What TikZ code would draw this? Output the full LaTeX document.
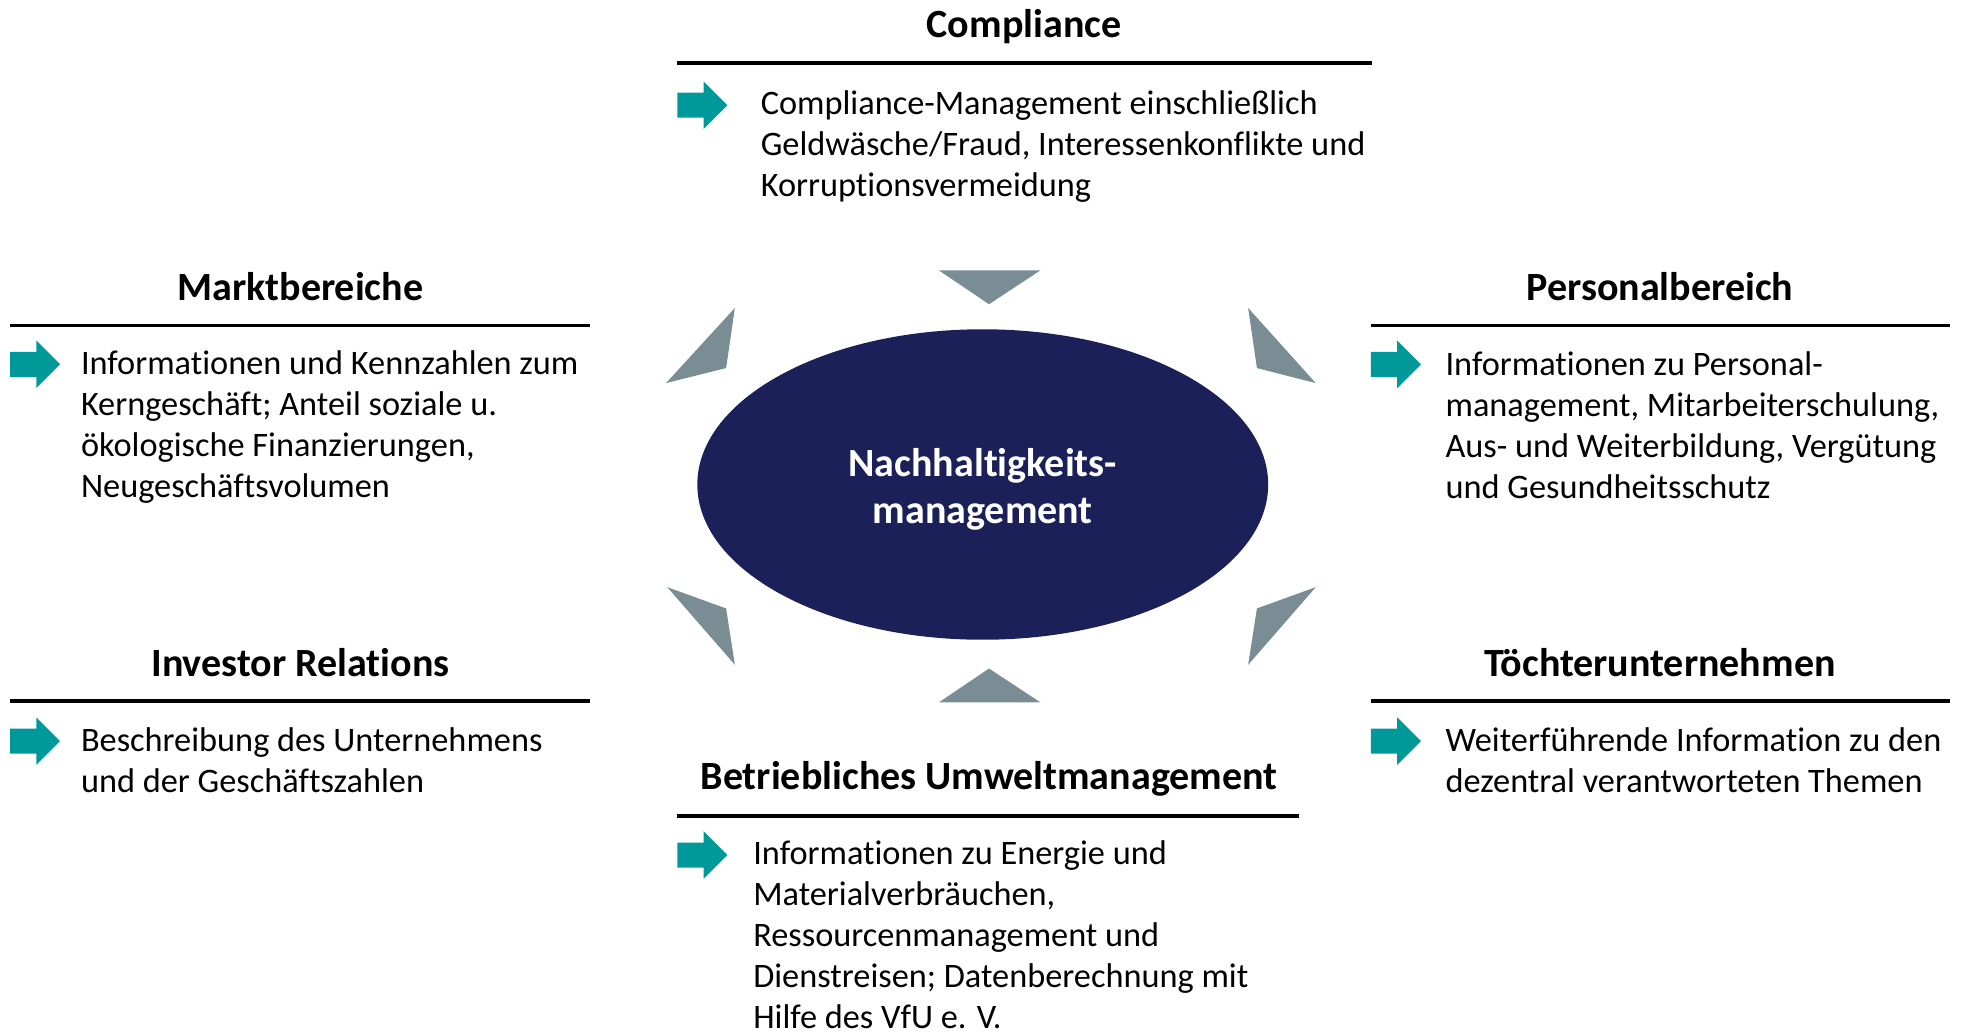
\documentclass[tikz,border=0pt]{standalone}
\usepackage{fontspec}
\setmainfont{Carlito}[RawFeature={-liga;-clig;-dlig;-calt}]
\usetikzlibrary{shapes.geometric}

\definecolor{pfeilgruen}{RGB}{0,153,153}
\definecolor{dreieckgrau}{RGB}{122,140,148}
\definecolor{kernblau}{RGB}{27,33,88}

\begin{document}
\begin{tikzpicture}[x=0.1mm,y=-0.1mm,
    titel/.style={font=\fontsize{9.1}{11}\selectfont\bfseries},
    inhalt/.style={anchor=west,align=left,inner sep=0pt,font=\fontsize{7.8}{9.35}\selectfont},
    linie/.style={line width=0.9pt},
    dreieck/.style={fill=dreieckgrau},
    pfeil/.pic={\fill[pfeilgruen] (0,-10) -- (21,-10) -- (21,-19) -- (40,0) -- (21,19) -- (21,10) -- (0,10) -- cycle;}]
    \useasboundingbox (0,0) rectangle (1568,824);

    % Kern
    \node[ellipse,fill=kernblau,minimum width=45.6mm,minimum height=24.8mm,inner sep=0pt] (kern) at (785,387) {};
    \node[text=white,align=center,font=\fontsize{9.1}{10.6}\selectfont\bfseries] (kerntext) at (785,391) {Nachhaltigkeits-\\management};

    % Dreiecke
    \fill[dreieck] (750,216) -- (831,216) -- (790,243) -- cycle;
    \fill[dreieck] (750,561) -- (831,561) -- (790,534) -- cycle;
    \fill[dreieck] (587,246) -- (532,306) -- (580,294) -- cycle;
    \fill[dreieck] (997,246) -- (1051,306) -- (1004,294) -- cycle;
    \fill[dreieck] (533,469) -- (580,486) -- (587,531) -- cycle;
    \fill[dreieck] (1051,469) -- (1004,486) -- (997,531) -- cycle;

    % Compliance
    \node[titel] (compl) at (818,21) {Compliance};
    \draw[linie] (541,50) -- (1096,50);
    \pic at (541,84) {pfeil};
    \node[inhalt] (compltext) at (607,117) {Compliance-Management einschließlich\\Geldwäsche/Fraud, Interessenkonflikte und\\Korruptionsvermeidung};

    % Marktbereiche
    \node[titel] (markt) at (240,229) {Marktbereiche};
    \draw[linie] (8,260) -- (471,260);
    \pic at (8,291) {pfeil};
    \node[inhalt] (markttext) at (64,341) {Informationen und Kennzahlen zum\\Kerngeschäft; Anteil soziale u.\\ökologische Finanzierungen,\\Neugeschäftsvolumen};

    % Personalbereich
    \node[titel] (personal) at (1326,229) {Personalbereich};
    \draw[linie] (1095,260) -- (1558,260);
    \pic at (1095,291) {pfeil};
    \node[inhalt] (personaltext) at (1154,339.5) {Informationen zu Personal-\\management, Mitarbeiterschulung,\\Aus- und Weiterbildung, Vergütung\\und Gesundheitsschutz};

    % Investor Relations
    \node[titel] (ir) at (240,529) {Investor Relations};
    \draw[linie] (8,560) -- (471,560);
    \pic at (8,592) {pfeil};
    \node[inhalt] (irtext) at (64,607.5) {Beschreibung des Unternehmens\\und der Geschäftszahlen};

    % Toechter
    \node[titel] (toechter) at (1326,529) {Töchterunternehmen};
    \draw[linie] (1095,560) -- (1558,560);
    \pic at (1095,592) {pfeil};
    \node[inhalt] (toechtertext) at (1154,607.5) {Weiterführende Information zu den\\dezentral verantworteten Themen};

    % Umwelt
    \node[titel] (umwelt) at (790,622) {Betriebliches Umweltmanagement};
    \draw[linie] (541,652) -- (1038,652);
    \pic at (541,683) {pfeil};
    \node[inhalt] (umwelttext) at (601,746.5) {Informationen zu Energie und\\Materialverbräuchen,\\Ressourcenmanagement und\\Dienstreisen; Datenberechnung mit\\Hilfe des VfU e. V.};
\end{tikzpicture}
\end{document}
